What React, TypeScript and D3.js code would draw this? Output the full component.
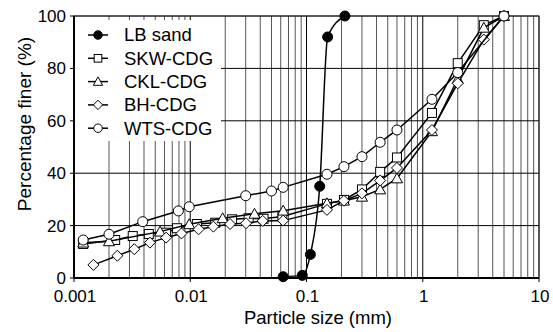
import React from 'react';
import * as d3 from 'd3';

// particle size (mm) / percentage finer (%)
const lbSize = [0.063, 0.092, 0.108, 0.13, 0.152, 0.214];
const lbFiner = [0.5, 1, 9, 35, 92, 100];

const skwSize = [0.0012, 0.00226, 0.0032, 0.0044, 0.0062, 0.0077, 0.0114, 0.0164, 0.0229, 0.0318, 0.0427, 0.062, 0.15, 0.21, 0.3, 0.43, 0.6, 1.2, 2.0, 3.35, 5];
const skwFiner = [13, 14.5, 16, 16.8, 17.3, 19, 20.6, 21.1, 22.4, 22.8, 22.6, 23.5, 28.3, 29.8, 33.8, 40.5, 46, 63, 82, 96.5, 100];

const cklSize = [0.0012, 0.002, 0.0055, 0.0098, 0.019, 0.0357, 0.063, 0.15, 0.21, 0.3, 0.43, 0.6, 1.2, 2.0, 3.35, 5];
const cklFiner = [13.5, 14, 17.7, 20.5, 22.8, 24.5, 25.7, 28.5, 29.5, 31, 33.8, 38, 56, 76, 95.5, 100];

const bhSize = [0.00147, 0.00236, 0.0033, 0.0045, 0.0062, 0.0084, 0.0118, 0.0158, 0.022, 0.0302, 0.042, 0.063, 0.15, 0.21, 0.3, 0.43, 0.6, 1.2, 2.0, 3.35, 5];
const bhFiner = [5, 8.5, 11, 13.5, 15.4, 17, 18.6, 19.6, 20.6, 20.9, 21.8, 21.9, 26, 29.5, 32.3, 37.2, 42, 56.5, 74.3, 91, 100];

const wtsSize = [0.0012, 0.002, 0.0039, 0.0079, 0.0098, 0.03, 0.05, 0.063, 0.15, 0.21, 0.3, 0.43, 0.6, 1.2, 2.0, 5];
const wtsFiner = [14.5, 16.7, 21.5, 25.6, 27.2, 31.4, 33.2, 34.6, 39.6, 42.5, 46.3, 51.8, 56.5, 68.2, 78.4, 100];

const seriesNames = ['LB sand', 'SKW-CDG', 'CKL-CDG', 'BH-CDG', 'WTS-CDG'];
const seriesShapes = ['dot', 'square', 'triangle', 'diamond', 'circle'];

const xTicks = [0.001, 0.01, 0.1, 1, 10];
const xTickLabels = ['0.001', '0.01', '0.1', '1', '10'];
const yTicks = [0, 20, 40, 60, 80, 100];

const W = 553;
const H = 332;
const margin = { top: 16, right: 14, bottom: 54, left: 74 };
const FONT = 'Liberation Sans, Arial, sans-serif';

const Marker = ({ shape, x, y, s = 1 }: { shape: string; x: number; y: number; s?: number }) => {
  const st = { stroke: '#000', strokeWidth: 1, fill: '#fff' };
  if (shape === 'dot') return <circle cx={x} cy={y} r={5 * s} fill="#000" stroke="#000" />;
  if (shape === 'circle') return <circle cx={x} cy={y} r={5 * s} {...st} />;
  if (shape === 'square') return <rect x={x - 4.5 * s} y={y - 4.5 * s} width={9 * s} height={9 * s} {...st} />;
  if (shape === 'triangle') {
    const r = 5.5 * s;
    return <path d={`M${x},${y - r}L${x + r},${y + r * 0.8}L${x - r},${y + r * 0.8}Z`} {...st} />;
  }
  const r = 5.5 * s;
  return <path d={`M${x},${y - r}L${x + r},${y}L${x},${y + r}L${x - r},${y}Z`} {...st} />;
};

export default function App() {
  const x = d3.scaleLog().domain([0.001, 10]).range([margin.left, W - margin.right]);
  const y = d3.scaleLinear().domain([0, 100]).range([H - margin.bottom, margin.top]);

  const series = [
    { sizes: lbSize, finer: lbFiner, curve: d3.curveMonotoneX },
    { sizes: skwSize, finer: skwFiner, curve: d3.curveLinear },
    { sizes: cklSize, finer: cklFiner, curve: d3.curveLinear },
    { sizes: bhSize, finer: bhFiner, curve: d3.curveLinear },
    { sizes: wtsSize, finer: wtsFiner, curve: d3.curveLinear },
  ];

  const minorTicks: number[] = [];
  [0.001, 0.01, 0.1, 1].forEach(dec => {
    for (let k = 2; k <= 9; k++) minorTicks.push(dec * k);
  });

  const [x0, x1] = x.range();
  const [y0, y1] = y.range();

  return (
    <svg width={W} height={H} style={{ position: 'absolute', left: 0, top: 0, background: '#fff' }} fontFamily={FONT}>
      {/* grid */}
      {minorTicks.map(t => (
        <line key={'m' + t} x1={x(t)} x2={x(t)} y1={y1} y2={y0} stroke="#555" strokeWidth={1} />
      ))}
      {xTicks.map(t => (
        <line key={'M' + t} x1={x(t)} x2={x(t)} y1={y1} y2={y0} stroke="#000" strokeWidth={1} />
      ))}
      {yTicks.map(t => (
        <line key={'h' + t} x1={x0} x2={x1} y1={y(t)} y2={y(t)} stroke="#000" strokeWidth={1} />
      ))}

      {/* legend background */}
      <rect x={x0 + 1} y={20} width={146} height={121} fill="#fff" />

      {/* frame */}
      <rect x={x0} y={y1} width={x1 - x0} height={y0 - y1} fill="none" stroke="#333" strokeWidth={1} />
      <line x1={x0} x2={x1} y1={y0} y2={y0} stroke="#000" strokeWidth={2} />
      <line x1={x0} x2={x0} y1={y1} y2={y0} stroke="#000" strokeWidth={2} />

      {/* axes labels */}
      {yTicks.map(t => (
        <g key={'yt' + t}>
          <line x1={x0 - 4} x2={x0} y1={y(t)} y2={y(t)} stroke="#000" />
          <text x={x0 - 8} y={y(t)} dy="0.35em" textAnchor="end" fontSize={17}>{t}</text>
        </g>
      ))}
      {xTicks.map((t, i) => (
        <g key={'xt' + t}>
          <line x1={x(t)} x2={x(t)} y1={y0} y2={y0 + 4} stroke="#000" />
          <text x={x(t) + 1} y={302} textAnchor="middle" fontSize={17}>{xTickLabels[i]}</text>
        </g>
      ))}
      <text x={318} y={324} textAnchor="middle" fontSize={18.5}>Particle size (mm)</text>
      <text transform="translate(31,124) rotate(-90)" textAnchor="middle" fontSize={19}>Percentage finer (%)</text>

      {/* data */}
      {series.map((s, i) => {
        const pts = s.sizes.map((v, j) => [x(v), y(s.finer[j])] as [number, number]);
        const path = d3.line().curve(s.curve)(pts) || '';
        return (
          <g key={'s' + i}>
            <path d={path} fill="none" stroke="#000" strokeWidth={1.5} />
            {pts.map((p, j) => (
              <Marker key={j} shape={seriesShapes[i]} x={p[0]} y={p[1]} />
            ))}
          </g>
        );
      })}

      {/* legend */}
      {seriesNames.map((name, i) => {
        const ly = 35 + i * 23.3;
        return (
          <g key={'lg' + i}>
            <line x1={88} x2={108} y1={ly} y2={ly} stroke="#000" strokeWidth={1.5} />
            <Marker shape={seriesShapes[i]} x={98} y={ly} s={0.85} />
            <text x={124} y={ly} dy="0.35em" fontSize={18.5}>{name}</text>
          </g>
        );
      })}
    </svg>
  );
}
